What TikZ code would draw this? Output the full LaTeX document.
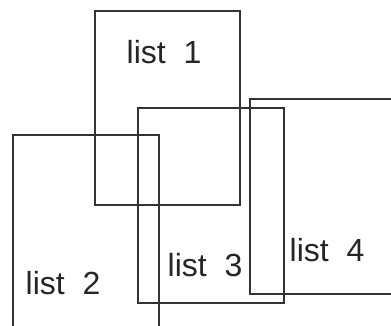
\documentclass[tikz,border=0pt]{standalone}
\usepackage{fontspec}
\setmainfont{Liberation Sans}
\usetikzlibrary{positioning}
\tikzstyle{listBox}  =[rectangle, draw=black!80, line width=1.2pt, inner sep=0pt]
\tikzstyle{listText} =[font=\fontsize{32}{32}\selectfont, text=black!85, inner sep=0pt]

\begin{document}
\begin{tikzpicture}[x=1pt,y=-1pt]
      \useasboundingbox (0,0) rectangle (391,325);
      \clip (0,0) rectangle (391,325);
      \node[listBox, minimum width=145, minimum height=194] (l1) at (167.5,108) {};
      \node[listBox, minimum width=146, minimum height=210] (l2) at (86,240) {};
      \node[listBox, minimum width=146, minimum height=195] (l3) at (211,205.5) {};
      \node[listBox, minimum width=160, minimum height=195] (l4) at (330,196.5) {};
      \node[listText] (t1) at (164,52) {list\ \ 1};
      \node[listText] (t2) at (63,283) {list\ \ 2};
      \node[listText] (t3) at (205,265) {list\ \ 3};
      \node[listText] (t4) at (327,250) {list\ \ 4};
    \end{tikzpicture}
\end{document}
